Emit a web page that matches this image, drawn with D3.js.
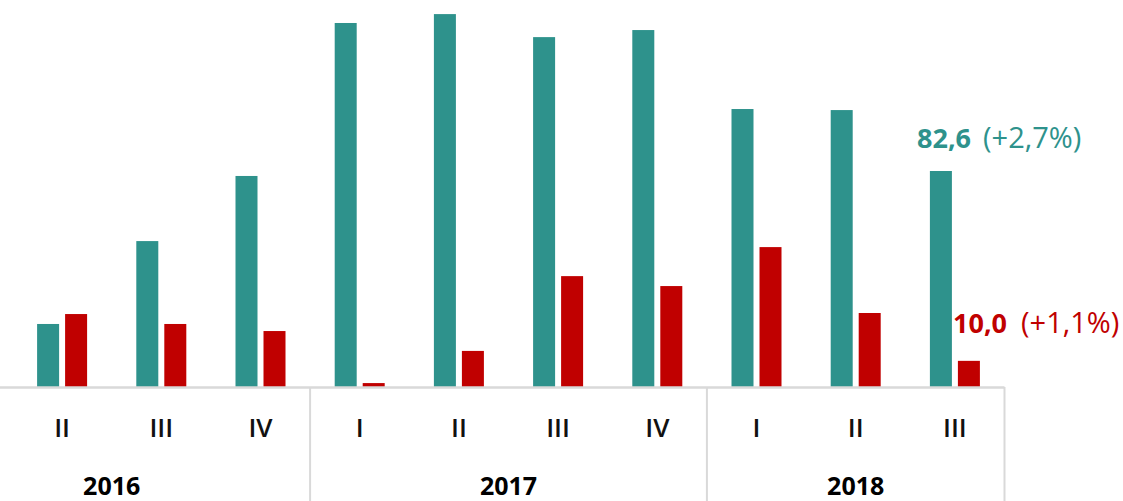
<!DOCTYPE html>
<html><head><meta charset="utf-8">
<script src="https://cdn.jsdelivr.net/npm/d3@7"></script>
<style>html,body{margin:0;padding:0;background:#fff;}svg{display:block;font-family:"Open Sans",sans-serif;}</style>
</head><body>
<svg id="c" width="1123" height="501"></svg>
<script>
const quarters = ["II","III","IV","I","II","III","IV","I","II","III"];
const yearOf = [2016,2016,2016,2017,2017,2017,2017,2018,2018,2018];
const years = ["2016","2017","2018"];
const yearQuarterCount = [4,4,3]; // 2016 includes quarter I outside the view
const tealValues = [24.1,55.8,80.7,139.2,142.6,133.8,136.5,106.3,105.9,82.6];
const redValues  = [27.9,24.1,21.4,1.5,13.8,42.4,38.6,53.5,28.3,10.0];
const lastTealLabel = ["82,6","(+2,7%)"];
const lastRedLabel  = ["10,0","(+1,1%)"];

const svg = d3.select("#c");
const teal = "#2e928c", red = "#c00000", grid = "#d9d9d9";
const baseY = 387;
const x = d3.scaleBand().domain(d3.range(quarters.length)).range([12.5, 1004.5]).padding(0);
const step = x.step();
const xs = d3.scaleBand().domain(["teal","red"]).range([-25,25]).paddingInner(6/28).paddingOuter(0);
const y = d3.scaleLinear().domain([0, 82.6]).range([baseY, 171]);
const cx = i => x(i) + step/2;

// bars
const g = svg.append("g");
g.selectAll("rect.t").data(tealValues).join("rect").attr("class","t")
  .attr("x",(d,i)=>cx(i)+xs("teal")).attr("width",xs.bandwidth())
  .attr("y",d=>y(d)).attr("height",d=>baseY-y(d)).attr("fill",teal);
g.selectAll("rect.r").data(redValues).join("rect").attr("class","r")
  .attr("x",(d,i)=>cx(i)+xs("red")).attr("width",xs.bandwidth())
  .attr("y",d=>y(d)).attr("height",d=>baseY-y(d)).attr("fill",red);

// axis line
svg.append("line").attr("x1",0).attr("x2",x.range()[1]).attr("y1",baseY+0.5).attr("y2",baseY+0.5)
  .attr("stroke",grid).attr("stroke-width",2.5);

// year separators
let idx = 0;
const yearSpans = years.map((yr,k)=>{
  const cnt = yearQuarterCount[k];
  const shown = yearOf.filter(v=>String(v)===yr).length;
  const end = idx + shown;
  const start = end - cnt;
  idx = end;
  return {yr, x0: x.range()[0] + start*step, x1: x.range()[0] + end*step};
});
svg.selectAll("line.sep").data(yearSpans).join("line").attr("class","sep")
  .attr("x1",d=>d.x1).attr("x2",d=>d.x1).attr("y1",baseY).attr("y2",501)
  .attr("stroke",grid).attr("stroke-width",2);

// quarter labels
svg.selectAll("text.q").data(quarters).join("text").attr("class","q")
  .attr("x",(d,i)=>cx(i)).attr("y",437).attr("text-anchor","middle")
  .attr("font-size",26).attr("font-weight",600).attr("fill","#111").text(d=>d);

// year labels
svg.selectAll("text.yr").data(yearSpans).join("text").attr("class","yr")
  .attr("x",d=>(d.x0+d.x1)/2).attr("y",495).attr("text-anchor","middle")
  .attr("font-size",25).attr("font-weight","bold").attr("fill","#000").text(d=>d.yr);

// end labels
const t1 = svg.append("text").attr("x",917).attr("y",148).attr("fill",teal);
t1.append("tspan").attr("font-weight","bold").attr("font-size",27).text(lastTealLabel[0]);
t1.append("tspan").attr("dx",12).attr("font-size",29).text(lastTealLabel[1]);
const t2 = svg.append("text").attr("x",953).attr("y",333).attr("fill",red);
t2.append("tspan").attr("font-weight","bold").attr("font-size",27).text(lastRedLabel[0]);
t2.append("tspan").attr("dx",14).attr("font-size",29).text(lastRedLabel[1]);
</script>
</body></html>
